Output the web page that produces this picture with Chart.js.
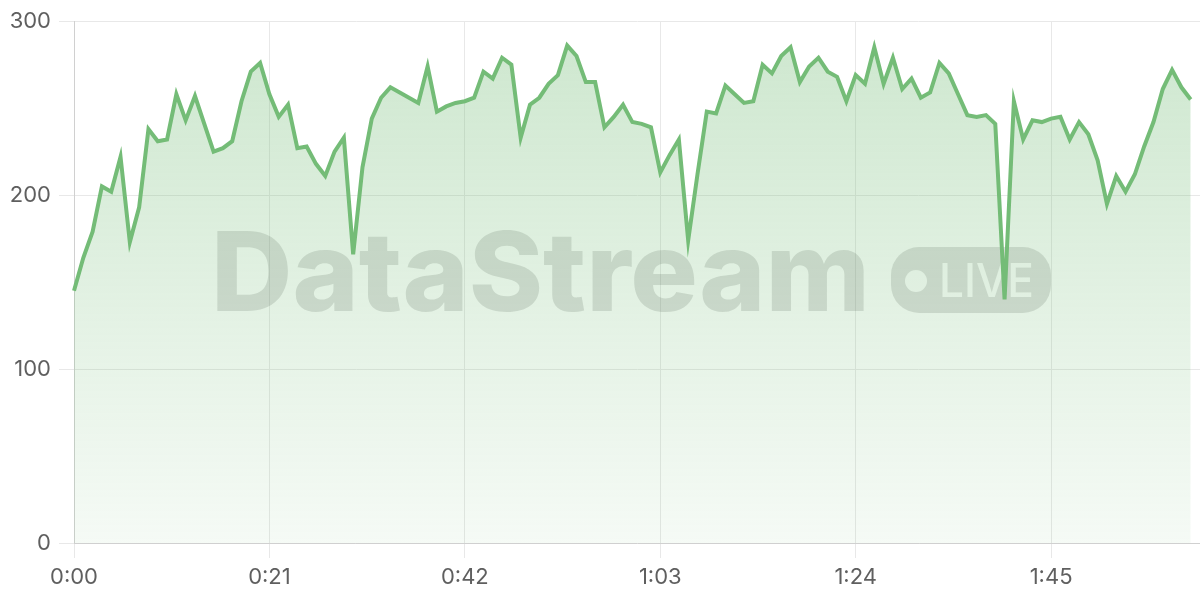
<!DOCTYPE html>
<html>
<head>
<meta charset="utf-8">
<script src="https://cdn.jsdelivr.net/npm/chart.js@4"></script>
<style>
  html, body { margin: 0; padding: 0; background: #fff; }
  #wrap { width: 1200px; height: 600px; position: relative; }
</style>
</head>
<body>
<div id="wrap"><canvas id="streamChart"></canvas></div>
<script>
    // Valores del stream (uno por segundo)
    const streamValues = [
        145, 164, 179, 205, 202, 222, 173, 193, 238, 231,
        232, 258, 243, 257, 241, 225, 227, 231, 254, 271,
        276, 258, 245, 252, 227, 228, 218, 211, 225, 233,
        166, 216, 244, 256, 262, 259, 256, 253, 274, 248,
        251, 253, 254, 256, 271, 267, 279, 275, 233, 252,
        256, 264, 269, 286, 280, 265, 265, 239, 245, 252,
        242, 241, 239, 213, 223, 232, 174, 212, 248, 247,
        263, 258, 253, 254, 275, 270, 280, 285, 265, 274,
        279, 271, 268, 254, 269, 264, 285, 264, 279, 261,
        267, 256, 259, 276, 270, 258, 246, 245, 246, 241,
        140, 254, 232, 243, 242, 244, 245, 232, 242, 235,
        220, 195, 211, 202, 212, 228, 242, 261, 272, 262,
        255
    ];

    // Etiquetas de tiempo 0:00 ... 2:01
    const totalSeconds = 122;
    const timeLabels = [];
    for (let s = 0; s < totalSeconds; s++) {
        const m = Math.floor(s / 60);
        const sec = s % 60;
        timeLabels.push(m + ':' + (sec < 10 ? '0' : '') + sec);
    }

    const yTicks = [0, 100, 200, 300];
    const lineColor = '#74bc77';

    // Marca de agua "DataStream LIVE"
    const watermark = {
        id: 'watermark',
        beforeDatasetsDraw(chart) {
            const ctx = chart.ctx;
            ctx.save();
            ctx.fillStyle = 'rgba(90, 90, 90, 0.2)';
            ctx.font = '800 110px Inter';
            ctx.textBaseline = 'alphabetic';
            const text = 'DataStream';
            const w = ctx.measureText(text).width;
            ctx.translate(211, 311);
            ctx.scale(659 / w, 1);
            ctx.fillText(text, 0, 0);
            ctx.restore();

            ctx.save();
            ctx.fillStyle = 'rgba(90, 90, 90, 0.2)';
            ctx.beginPath();
            ctx.roundRect(891, 247, 160, 66, 28);
            ctx.fill();
            ctx.fillStyle = 'rgba(255, 255, 255, 0.95)';
            ctx.beginPath();
            ctx.arc(916, 281, 11, 0, Math.PI * 2);
            ctx.fill();
            ctx.font = '500 47px Inter';
            const lw = ctx.measureText('LIVE').width;
            ctx.translate(939, 297);
            ctx.scale(95 / lw, 1);
            ctx.fillText('LIVE', 0, 0);
            ctx.restore();
        }
    };

    const ctxStream = document.getElementById('streamChart').getContext('2d');
    new Chart(ctxStream, {
        type: 'line',
        data: {
            labels: timeLabels,
            datasets: [{
                data: streamValues,
                borderColor: lineColor,
                borderWidth: 4,
                tension: 0,
                pointRadius: 0,
                fill: true,
                backgroundColor: function(context) {
                    const area = context.chart.chartArea;
                    if (!area) return 'rgba(116, 188, 119, 0.2)';
                    const g = context.chart.ctx.createLinearGradient(0, area.top, 0, area.bottom);
                    g.addColorStop(0, 'rgba(116, 188, 119, 0.36)');
                    g.addColorStop(1, 'rgba(116, 188, 119, 0.07)');
                    return g;
                }
            }]
        },
        options: {
            responsive: true,
            maintainAspectRatio: false,
            animation: false,
            layout: {
                padding: { top: 19, right: 0, bottom: 0, left: 0 }
            },
            plugins: {
                legend: { display: false },
                tooltip: { enabled: false }
            },
            scales: {
                x: {
                    afterFit: function(scale) { scale.height = 57; },
                    grid: {
                        color: '#e8e8e8',
                        tickLength: 15
                    },
                    border: { color: '#d0d0d0' },
                    ticks: {
                        maxTicksLimit: 6,
                        maxRotation: 0,
                        padding: 6,
                        color: '#5f5f5f',
                        font: { family: 'Inter', size: 22 }
                    }
                },
                y: {
                    min: 0,
                    max: 300,
                    afterFit: function(scale) { scale.width = 74; },
                    afterBuildTicks: function(scale) {
                        scale.ticks = yTicks.map(v => ({ value: v }));
                    },
                    grid: {
                        color: '#e8e8e8',
                        tickLength: 15
                    },
                    border: { color: '#d0d0d0' },
                    ticks: {
                        padding: 8,
                        color: '#5f5f5f',
                        font: { family: 'Inter', size: 22 }
                    }
                }
            }
        },
        plugins: [watermark]
    });
</script>
</body>
</html>
